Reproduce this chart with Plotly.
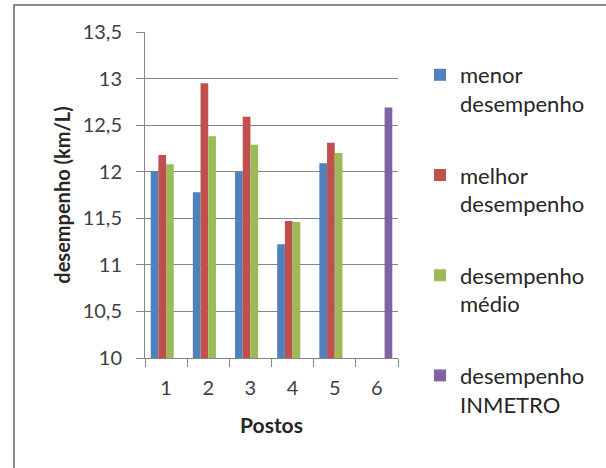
import plotly.graph_objects as go

categories = ["1", "2", "3", "4", "5", "6"]
menor = [12.00, 11.78, 12.00, 11.22, 12.09, None]
melhor = [12.18, 12.95, 12.59, 11.47, 12.31, None]
medio = [12.08, 12.38, 12.29, 11.46, 12.20, None]
inmetro = [None, None, None, None, None, 12.69]
series_names = ["menor<br>desempenho", "melhor<br>desempenho", "desempenho<br>médio", "desempenho<br>INMETRO"]
series_colors = ["#4F81BD", "#C0504D", "#9BBB59", "#8064A2"]
y_ticks = [10, 10.5, 11, 11.5, 12, 12.5, 13, 13.5]
y_tick_labels = ["10", "10,5", "11", "11,5", "12", "12,5", "13", "13,5"]

FONT = "Lato"
fig = go.Figure()
for i, (vals, name, col) in enumerate(zip([menor, melhor, medio, inmetro], series_names, series_colors)):
    fig.add_trace(go.Bar(x=categories, y=vals, name=name, marker=dict(color=col, line=dict(width=0)),
                         legendgroup=str(i)))

W, H = 606, 468
L, R, T, B = 145, 208, 32, 110
pw, ph = W - L - R, H - T - B

fig.update_layout(
    width=W, height=H,
    margin=dict(l=L, r=R, t=T, b=B, autoexpand=False),
    paper_bgcolor="white", plot_bgcolor="white",
    barmode="group", bargap=0.27, bargroupgap=0,
    font=dict(family=FONT, size=20, color="#404040"),
    showlegend=True,
    legend=dict(x=(420 - L) / pw, y=(H - B - 54) / ph, xanchor="left", yanchor="top",
                traceorder="grouped", tracegroupgap=40, valign="top",
                font=dict(family=FONT, size=22, color="#262626"),
                itemwidth=30, bgcolor="rgba(0,0,0,0)", maxheight=440),
    xaxis=dict(type="category", tickson="boundaries", ticks="outside", ticklen=8,
               tickcolor="#868686", showline=True, linecolor="#868686", linewidth=1,
               showgrid=False, ticklabelstandoff=12,
               title=dict(text="<b>Postos</b>", font=dict(family=FONT, size=21, color="#262626"), standoff=20)),
    yaxis=dict(range=[10, 13.5], tickvals=y_ticks, ticktext=y_tick_labels, ticks="outside", ticklen=8,
               tickcolor="#868686", showline=True, linecolor="#868686", linewidth=1,
               showgrid=True, gridcolor="#868686", gridwidth=1, zeroline=False,
               ticklabelstandoff=10,
               title=dict(text="<b>desempenho (km/L)</b>", font=dict(family=FONT, size=20, color="#262626"), standoff=6)),
    shapes=[dict(type="rect", xref="paper", yref="paper",
                 x0=(14 - L) / pw, x1=(620 - L) / pw,
                 y0=(H - B - 480) / ph, y1=(H - B - 5) / ph,
                 line=dict(color="#8C8C8C", width=2), fillcolor="rgba(0,0,0,0)", layer="below")],
)

fig.write_html("out.html", config={"displayModeBar": False},
               post_script="document.body.style.margin='0';document.body.style.overflow='hidden';")
